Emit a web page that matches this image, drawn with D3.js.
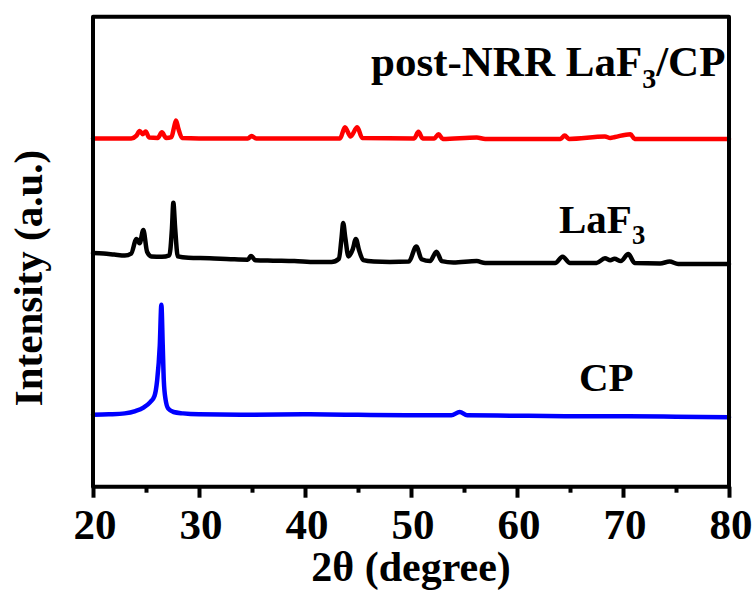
<!DOCTYPE html>
<html>
<head>
<meta charset="utf-8">
<script src="https://cdn.jsdelivr.net/npm/d3@7"></script>
<style>
  html, body { margin: 0; padding: 0; background: #fff; }
  svg { display: block; }
  text { font-family: "Liberation Serif", "Times New Roman", serif; font-weight: bold; fill: #000; }
</style>
</head>
<body>
<svg id="chart" width="756" height="590"></svg>
<script>
// XRD patterns: [2θ (degree), intensity (a.u., stacked)]
const cpPattern = [
  [20.0, 15.3], [21.5, 15.4], [23.0, 15.6], [24.0, 16.1], [24.8, 16.9], [25.4, 18.0],
  [25.8, 19.3], [26.05, 22.6], [26.3, 30.0], [26.45, 38.7], [26.58, 30.0], [26.68, 22.6],
  [26.85, 18.5], [27.1, 16.6], [27.6, 15.9], [28.5, 15.6], [30.0, 15.4], [35.0, 15.3],
  [40.0, 15.4], [45.0, 15.3], [50.0, 15.2], [53.8, 15.2], [54.6, 15.9], [55.3, 15.2],
  [60.0, 15.1], [65.0, 15.0], [70.0, 15.0], [75.0, 14.9], [80.0, 14.8]
];

const laf3Pattern = [
  [20.0, 49.7], [21.0, 49.6], [22.0, 49.4], [23.0, 49.2], [23.6, 49.6], [24.1, 52.7],
  [24.4, 51.8], [24.75, 54.6], [25.1, 50.0], [25.5, 49.0], [26.5, 48.9], [27.2, 49.2],
  [27.45, 55.0], [27.58, 60.4], [27.75, 55.0], [28.0, 49.0], [29.0, 48.7], [31.0, 48.6],
  [33.0, 48.4], [34.6, 48.3], [34.9, 49.1], [35.3, 48.2], [37.0, 48.1], [39.0, 48.0],
  [41.0, 47.8], [42.5, 47.8], [43.2, 48.5], [43.45, 53.0], [43.6, 56.1], [43.8, 53.0],
  [44.1, 49.0], [44.5, 50.5], [44.8, 52.7], [45.1, 50.3], [45.5, 48.2], [46.5, 47.9],
  [48.0, 47.8], [49.8, 47.9], [50.5, 51.1], [51.0, 48.4], [51.8, 48.0], [52.4, 50.0],
  [52.9, 48.0], [54.0, 47.7], [56.2, 48.0], [57.0, 47.6], [60.0, 47.6], [63.6, 47.6],
  [64.3, 48.9], [65.0, 47.6], [67.5, 47.6], [68.3, 48.6], [68.8, 48.2], [69.2, 48.5],
  [69.8, 48.0], [70.5, 49.5], [71.1, 47.6], [73.5, 47.5], [74.4, 47.9], [75.2, 47.4],
  [78.0, 47.4], [80.0, 47.4]
];

const postNrrPattern = [
  [20.0, 74.1], [23.6, 74.1], [24.1, 74.7], [24.4, 75.7], [24.7, 75.0], [24.97, 75.6],
  [25.3, 74.3], [26.1, 74.2], [26.5, 75.4], [26.9, 74.2], [27.4, 74.4], [27.65, 76.5],
  [27.83, 77.9], [28.05, 76.2], [28.4, 74.2], [30.0, 74.1], [34.6, 74.1], [34.97, 74.6],
  [35.4, 74.1], [43.3, 74.1], [43.77, 76.5], [44.3, 74.5], [44.93, 76.5], [45.4, 74.2],
  [50.3, 74.1], [50.7, 75.5], [51.1, 74.1], [52.2, 74.1], [52.6, 75.0], [53.0, 74.0],
  [56.2, 74.3], [57.0, 74.0], [64.1, 74.0], [64.5, 74.7], [64.9, 74.0], [68.3, 74.5],
  [68.8, 74.2], [69.25, 74.4], [70.7, 75.0], [71.1, 74.0], [80.0, 74.0]
];

const xTicksMajor = [20, 30, 40, 50, 60, 70, 80];
const xTicksMinor = [25, 35, 45, 55, 65, 75];
const xDomain = [20, 80];
const yDomain = [0, 100];

const seriesColors = ["#0000ff", "#000000", "#ff0000"];

const svg = d3.select("#chart");
const plot = { left: 93, right: 729, top: 16.7, bottom: 486.7 };

const x = d3.scaleLinear().domain(xDomain).range([plot.left, plot.right]);
const y = d3.scaleLinear().domain(yDomain).range([plot.bottom, plot.top]);

const line = d3.line()
  .x(d => x(d[0]))
  .y(d => y(d[1]))
  .curve(d3.curveMonotoneX);

const patterns = [cpPattern, laf3Pattern, postNrrPattern];
patterns.forEach((p, i) => {
  svg.append("path")
    .datum(p)
    .attr("fill", "none")
    .attr("stroke", seriesColors[i])
    .attr("stroke-width", 4.5)
    .attr("stroke-linejoin", "round")
    .attr("stroke-linecap", "round")
    .attr("d", line);
});

// frame
svg.append("rect")
  .attr("x", plot.left).attr("y", plot.top)
  .attr("width", plot.right - plot.left).attr("height", plot.bottom - plot.top)
  .attr("fill", "none").attr("stroke", "#000").attr("stroke-width", 4)
  .attr("stroke-linejoin", "round");

// bottom axis: minor and major ticks pointing outward
const gx = svg.append("g").attr("transform", `translate(0,${plot.bottom})`);
gx.call(d3.axisBottom(x).tickValues(xTicksMinor).tickSize(6).tickFormat(""));
gx.call(g => g.select(".domain").remove());
gx.selectAll("line").attr("stroke", "#000").attr("stroke-width", 4);
gx.selectAll("text").remove();

const gxMaj = svg.append("g").attr("transform", `translate(0,${plot.bottom})`);
gxMaj.call(d3.axisBottom(x).tickValues(xTicksMajor).tickSize(11).tickFormat(""));
gxMaj.call(g => g.select(".domain").remove());
gxMaj.selectAll("line").attr("stroke", "#000").attr("stroke-width", 4);

function label(px, py, anchor, size, parts, rotate) {
  const t = svg.append("text")
    .attr("transform", `translate(${px},${py})` + (rotate ? ` rotate(${rotate})` : ""))
    .attr("font-family", "Liberation Serif")
    .attr("text-anchor", anchor)
    .attr("font-size", size);
  parts.forEach(p => {
    const s = t.append("tspan").text(p.t);
    if (p.sub) s.attr("font-size", size * 0.65).attr("dy", size * 0.28);
    if (p.back) s.attr("dy", -size * 0.28);
  });
  return t;
}

xTicksMajor.forEach(v => label(x(v) + 2, 539, "middle", 43, [{ t: String(v) }]));

label((plot.left + plot.right) / 2, 581, "middle", 42, [{ t: "2θ (degree)" }]);
label(42, 278, "middle", 41, [{ t: "Intensity (a.u.)" }], -90);

label(371, 76, "start", 43, [{ t: "post-NRR LaF" }, { t: "3", sub: true }, { t: "/CP", back: true }]);
label(559, 233, "start", 41, [{ t: "LaF" }, { t: "3", sub: true }]);
label(579, 391, "start", 41, [{ t: "CP" }]);
</script>
</body>
</html>
